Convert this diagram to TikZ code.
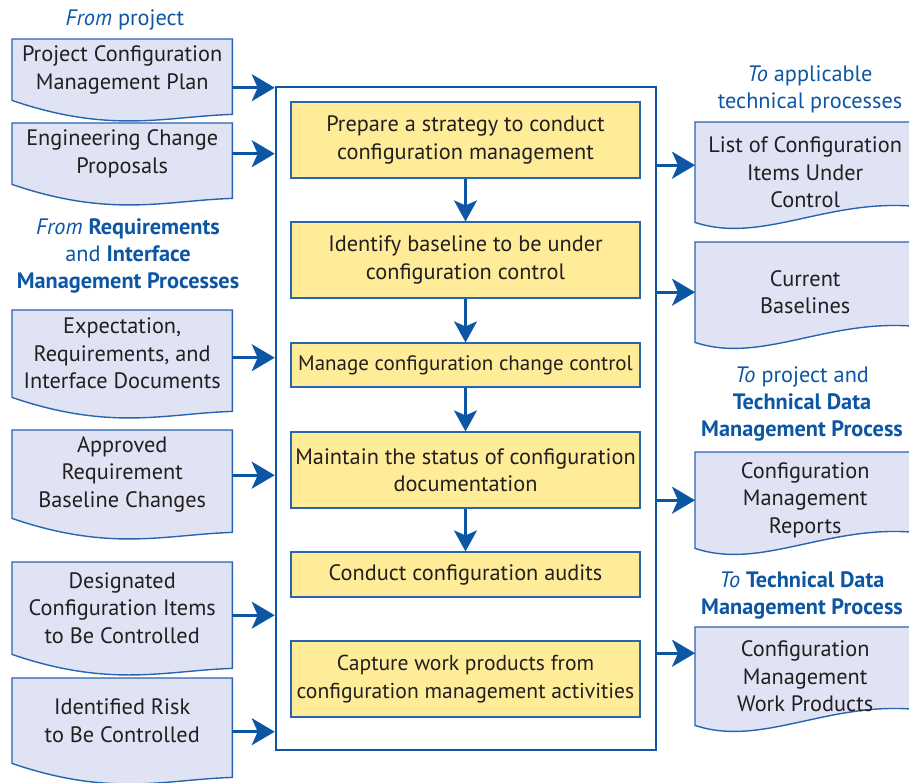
\documentclass[tikz,border=0pt]{standalone}
\usepackage{fontspec}
\setmainfont{PT Sans}
\usepackage{tikz}
\usetikzlibrary{
    positioning,
    arrows.meta,
    calc,
    backgrounds
}
\definecolor{cmBlue}{RGB}{12, 86, 164}
\definecolor{cmLine}{RGB}{40, 100, 175}
\definecolor{cmYellow}{RGB}{255, 236, 152}
\definecolor{cmLilac}{RGB}{224, 227, 243}
\definecolor{cmText}{RGB}{35, 31, 32}

% document outline behind a node (wave dips, right end lower)
\newcommand{\leftdocline}[1]{%
    \begin{pgfonlayer}{background}
    \draw[docline] (#1.south west) -- (#1.north west) -- (#1.north east)
        -- ($(#1.south east)+(0,14)$)
        .. controls ($(#1.south west)!0.7!(#1.south east)+(0,16)$)
        and ($(#1.south west)!0.45!(#1.south east)+(0,34)$) .. (#1.south west) -- cycle;
    \end{pgfonlayer}}
% document outline, wave rising to the right
\newcommand{\rightdocline}[1]{%
    \begin{pgfonlayer}{background}
    \draw[docline] (#1.south west) -- (#1.north west) -- (#1.north east)
        -- ($(#1.south east)+(0,-16)$)
        .. controls ($(#1.south west)!0.6!(#1.south east)+(0,-24)$)
        and ($(#1.south west)!0.3!(#1.south east)+(0,22)$) .. (#1.south west) -- cycle;
    \end{pgfonlayer}}

\begin{document}
\begin{tikzpicture}[x=1pt, y=-1pt,
    >={Stealth[length=23pt, width=27pt, inset=6pt]},
    txt/.style={font=\fontsize{22.3}{27.5}\selectfont, text=cmText, align=center},
    docbox/.style={txt, minimum width=220pt, inner sep=0pt, anchor=north west},
    docline/.style={draw=cmLine, line width=1.4pt, fill=cmLilac},
    stepbox/.style={txt, draw=cmLine, line width=1.2pt, fill=cmYellow,
        minimum width=349pt, inner sep=0pt},
    mainbox/.style={draw=cmBlue, line width=2.6pt},
    flow/.style={->, draw=cmBlue, line width=2.6pt},
    stepflow/.style={-{Stealth[length=21pt, width=23pt, inset=5pt]}, draw=cmBlue, line width=2.2pt},
    head/.style={font=\fontsize{22.3}{27}\selectfont, text=cmBlue, align=center}]

    \clip (0,0) rectangle (909,782);

    % Headers
    \node[head] (hproj) at (125,20) {\textit{From} project};
    \node[head] (hreq) at (128,256) {\textit{From} \textbf{Requirements}\\ and \textbf{Interface}\\ \textbf{Management Processes}};
    \node[head] (htech) at (810,89) {\textit{To} applicable\\ technical processes};
    \node[head] (hrep) at (802,404) {\textit{To} project and\\ \textbf{Technical Data}\\ \textbf{Management Process}};
    \node[head] (hwork) at (802,595.5) {\textit{To} \textbf{Technical Data}\\ \textbf{Management Process}};

    % Inputs
    \node[docbox, minimum height=61pt] (d1) at (12,39) {Project Configuration\\ Management Plan};
    \node[docbox, minimum height=61pt] (d2) at (12,123) {Engineering Change\\ Proposals};
    \node[docbox, minimum height=87pt] (d3) at (12,310) {Expectation,\\ Requirements, and\\ Interface Documents};
    \node[docbox, minimum height=88pt] (d4) at (12,430) {Approved\\ Requirement\\ Baseline Changes};
    \node[docbox, minimum height=92pt] (d5) at (12,562) {Designated\\ Configuration Items\\ to Be Controlled};
    \node[docbox, minimum height=85pt] (d6) at (12,678) {Identified Risk\\ to Be Controlled};
    \foreach \d in {d1, d2, d3, d4, d5, d6} {\leftdocline{\d}}

    % Outputs
    \node[docbox, minimum height=100pt] (r1) at (695,122) {List of Configuration\\ Items Under\\ Control};
    \node[docbox, minimum height=100pt] (r2) at (695,242) {Current\\ Baselines};
    \node[docbox, minimum height=96pt] (r3) at (695,452) {Configuration\\ Management\\ Reports};
    \node[docbox, minimum height=98pt] (r4) at (695,627) {Configuration\\ Management\\ Work Products};
    \foreach \r in {r1, r2, r3, r4} {\rightdocline{\r}}

    % Process box and steps
    \node[mainbox, minimum width=380pt, minimum height=663pt] (main) at (466,418.5) {};
    \node[stepbox, minimum height=76pt] (s1) at (465.5,140) {Prepare a strategy to conduct\\ configuration management};
    \node[stepbox, minimum height=76pt] (s2) at (465.5,260) {Identify baseline to be under\\ configuration control};
    \node[stepbox, minimum height=44pt, font=\fontsize{21}{27.5}\selectfont] (s3) at (465.5,365) {Manage configuration change control};
    \node[stepbox, minimum height=76pt] (s4) at (465.5,470) {Maintain the status of configuration\\ documentation};
    \node[stepbox, minimum height=45pt] (s5) at (465.5,574.5) {Conduct configuration audits};
    \node[stepbox, minimum height=76pt, font=\fontsize{21.6}{27.5}\selectfont] (s6) at (465.5,679) {Capture work products from\\ configuration management activities};

    \foreach \a/\b in {s1/s2, s2/s3, s3/s4, s4/s5}
        \draw[stepflow] (\a.south) -- (\b.north);

    % Arrows in
    \draw[flow] ([yshift=-18pt]d1.east) coordinate (a1) -- (a1 -| main.west);
    \draw[flow] (d2.east) -- (d2.east -| main.west);
    \draw[flow] ([yshift=-4pt]d3.east) coordinate (a3) -- (a3 -| main.west);
    \draw[flow] ([yshift=-1pt]d4.east) coordinate (a4) -- (a4 -| main.west);
    \draw[flow] ([yshift=-7pt]d5.east) coordinate (a5) -- (a5 -| main.west);
    \draw[flow] ([yshift=-11pt]d6.east) coordinate (a6) -- (a6 -| main.west);

    % Arrows out
    \draw[flow] ([yshift=7pt]r1.west -| main.east) -- ([yshift=7pt]r1.west);
    \draw[flow] (r2.west -| main.east) -- (r2.west);
    \draw[flow] (r3.west -| main.east) -- (r3.west);
    \draw[flow] ([yshift=23pt]r4.west -| main.east) -- ([yshift=23pt]r4.west);
\end{tikzpicture}
\end{document}
